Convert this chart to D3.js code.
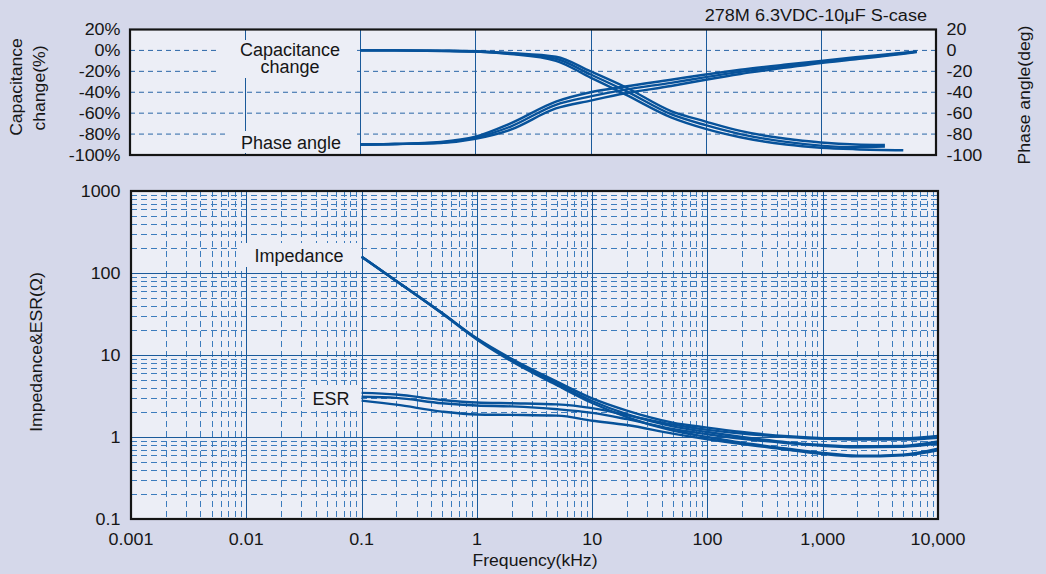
<!DOCTYPE html>
<html><head><meta charset="utf-8">
<script src="https://cdn.jsdelivr.net/npm/d3@7"></script>
<style>
body{margin:0;background:#d5d8ea;}
svg{display:block;font-family:"Liberation Sans",Arial,Helvetica,sans-serif;}
</style>
</head><body>
<svg id="c" width="1046" height="574"></svg>
<script>
// ---------- data ----------
const titleText = "278M 6.3VDC-10\u03bcF S-case";
const freqTicks = [0.001, 0.01, 0.1, 1, 10, 100, 1000, 10000];
const freqTickLabels = ["0.001", "0.01", "0.1", "1", "10", "100", "1,000", "10,000"];
const capTicks = [20, 0, -20, -40, -60, -80, -100];
const capTickLabels = ["20%", "0%", "-20%", "-40%", "-60%", "-80%", "-100%"];
const phaseTicks = [20, 0, -20, -40, -60, -80, -100];
const phaseTickLabels = ["20", "0", "-20", "-40", "-60", "-80", "-100"];
const zTicks = [0.1, 1, 10, 100, 1000];
const zTickLabels = ["0.1", "1", "10", "100", "1000"];

// capacitance change (%) vs frequency (kHz)
const capFreqA = [0.1, 0.2, 0.5, 1, 2, 5, 10, 20, 50, 100, 200, 500, 1000, 2000, 3600];
const capFreqB = [0.1, 0.2, 0.5, 1, 2, 5, 10, 20, 50, 100, 200, 500, 1000, 2000, 5200];
const cap1 = [0, 0, -0.3, -0.8, -2.5, -6, -20, -35, -58, -68, -77, -84.5, -88, -90, -90.5];
const cap2 = [0, 0, -0.4, -1, -3, -8, -23, -38.5, -61, -71.5, -80, -87.5, -91, -92.5, -92];
const cap3 = [0, 0, -0.5, -1.2, -3.5, -10, -26, -42, -64, -75, -83, -90, -93, -94.5, -95.5];

// phase angle (deg) vs frequency (kHz)
const phaseFreq = [0.1, 0.2, 0.5, 1, 2, 5, 10, 20, 50, 100, 200, 500, 1000, 2000, 5000, 6800];
const phase1 = [-90, -89.5, -87.5, -82.5, -70, -49, -40, -34.5, -28, -23, -18.5, -13.5, -10, -6.5, -2.5, -1];
const phase2 = [-90, -89.5, -88, -83.5, -73, -52, -44, -37.5, -31, -25.5, -20.5, -15, -11, -7.5, -3, -1.2];
const phase3 = [-90, -89.5, -88.5, -84.5, -76, -55.5, -48, -41, -34, -28, -22.5, -16.5, -12, -8.5, -3.5, -1.5];

// impedance & ESR (ohm) vs frequency (kHz)
const zFreq = [0.1, 0.2, 0.5, 1, 2, 5, 10, 20, 50, 100, 200, 500, 1000, 2000, 5000, 10000];
const imp1 = [158, 80, 32.5, 16, 9.0, 4.7, 2.96, 2.1, 1.5, 1.3, 1.15, 1.02, 0.97, 0.95, 0.96, 1.03];
const imp2 = [158, 80, 32.3, 15.8, 8.7, 4.45, 2.75, 1.9, 1.35, 1.15, 1.0, 0.86, 0.8, 0.77, 0.78, 0.88];
const imp3 = [158, 80, 32, 15.5, 8.4, 4.25, 2.6, 1.75, 1.2, 1.0, 0.85, 0.72, 0.64, 0.59, 0.61, 0.72];
const esr1 = [3.45, 3.3, 2.83, 2.63, 2.58, 2.5, 2.25, 1.85, 1.42, 1.22, 1.1, 1.0, 0.95, 0.93, 0.93, 0.98];
const esr2 = [3.1, 3.0, 2.58, 2.42, 2.36, 2.18, 1.97, 1.65, 1.25, 1.08, 0.95, 0.84, 0.78, 0.75, 0.76, 0.83];
const esr3 = [2.78, 2.48, 2.04, 1.88, 1.86, 1.82, 1.58, 1.4, 1.1, 0.94, 0.82, 0.7, 0.62, 0.58, 0.6, 0.69];

// ---------- style ----------
const C = {
  plotBg: "#eceef6", frame: "#141414", curve: "#07529a",
  major: "#1b5a9a", minor: "#3c7cbd", dash: "#2a66a6", text: "#161616"
};

const svg = d3.select("#c");

function txt(g, x, y, s, o = {}) {
  const size = o.size || 16, sx = o.sx || 1, rot = o.rot || 0;
  return g.append("text")
    .attr("transform", `translate(${x},${y}) rotate(${rot}) scale(${sx},1)`)
    .attr("text-anchor", o.anchor || "start")
    .style("font-size", size + "px")
    .attr("fill", C.text)
    .text(s);
}

// ---------- top panel ----------
const T = {x0: 130, x1: 936, y0: 29.5, y1: 155};
const xT = d3.scaleLog().domain([0.001, 10000]).range([T.x0, T.x1]);
const yCap = d3.scaleLinear().domain([-100, 20]).range([T.y1, T.y0]);
const yPh = d3.scaleLinear().domain([-100, 20]).range([T.y1, T.y0]);

const gT = svg.append("g");
gT.append("rect").attr("x", T.x0).attr("y", T.y0).attr("width", T.x1 - T.x0).attr("height", T.y1 - T.y0).attr("fill", C.plotBg);
// horizontal dashed
gT.selectAll("line.h").data(capTicks.filter(d => d > -100 && d < 20)).join("line")
  .attr("x1", T.x0).attr("x2", T.x1).attr("y1", d => yCap(d)).attr("y2", d => yCap(d))
  .attr("stroke", C.dash).attr("stroke-width", 1).attr("stroke-dasharray", "5,4");
// vertical decades
gT.selectAll("line.v").data(freqTicks.slice(1, -1)).join("line")
  .attr("x1", d => Math.round(xT(d)) + 0.5).attr("x2", d => Math.round(xT(d)) + 0.5).attr("y1", T.y0).attr("y2", T.y1)
  .attr("stroke", C.major).attr("stroke-width", 1);
// label boxes
gT.append("rect").attr("x", 220).attr("y", 40).attr("width", 137).attr("height", 38).attr("fill", C.plotBg);
gT.append("rect").attr("x", 227).attr("y", 131).attr("width", 130).attr("height", 22).attr("fill", C.plotBg);

const lineT = (fr, ys, sc) => d3.line().x((d, i) => xT(fr[i])).y(d => sc(d)).curve(d3.curveMonotoneX)(ys);
[[capFreqA, cap1], [capFreqA, cap2], [capFreqB, cap3]].forEach(([fr, ys]) =>
  gT.append("path").attr("d", lineT(fr, ys, yCap)).attr("fill", "none").attr("stroke", C.curve).attr("stroke-width", 2.4));
[phase1, phase2, phase3].forEach(ys =>
  gT.append("path").attr("d", lineT(phaseFreq, ys, yPh)).attr("fill", "none").attr("stroke", C.curve).attr("stroke-width", 2.4));

gT.append("rect").attr("x", T.x0).attr("y", T.y0).attr("width", T.x1 - T.x0).attr("height", T.y1 - T.y0)
  .attr("fill", "none").attr("stroke", C.frame).attr("stroke-width", 2.2);

txt(gT, 290, 56, "Capacitance", {size: 18, anchor: "middle"});
txt(gT, 290, 73, "change", {size: 18, anchor: "middle"});
txt(gT, 291, 149, "Phase angle", {size: 18, anchor: "middle"});

capTicks.forEach((d, i) => txt(gT, 120.5, yCap(d) + 5.5, capTickLabels[i], {anchor: "end", sx: 1.12}));
phaseTicks.forEach((d, i) => txt(gT, 946.5, yPh(d) + 5.5, phaseTickLabels[i], {anchor: "start", sx: 1.12}));
txt(gT, 927, 21, titleText, {anchor: "end", sx: 1.13});
txt(gT, 22, 87, "Capacitance", {anchor: "middle", rot: -90, sx: 1.1});
txt(gT, 45, 88, "change(%)", {anchor: "middle", rot: -90, sx: 1.1});
txt(gT, 1030, 95, "Phase angle(deg)", {anchor: "middle", rot: -90, sx: 1.1});

// ---------- bottom panel ----------
const B = {x0: 131, x1: 938, y0: 191, y1: 519};
const xB = d3.scaleLog().domain([0.001, 10000]).range([B.x0, B.x1]);
const yZ = d3.scaleLog().domain([0.1, 1000]).range([B.y1, B.y0]);
const gB = svg.append("g");
gB.append("rect").attr("x", B.x0).attr("y", B.y0).attr("width", B.x1 - B.x0).attr("height", B.y1 - B.y0).attr("fill", C.plotBg);

const minorX = [], minorY = [];
for (let e = -3; e < 4; e++) for (let k = 2; k <= 9; k++) minorX.push(k * Math.pow(10, e));
for (let e = -1; e < 3; e++) for (let k = 2; k <= 9; k++) minorY.push(k * Math.pow(10, e));

gB.selectAll("line.mx").data(minorX).join("line")
  .attr("x1", d => Math.round(xB(d)) + 0.5).attr("x2", d => Math.round(xB(d)) + 0.5).attr("y1", B.y0).attr("y2", B.y1)
  .attr("stroke", C.minor).attr("stroke-width", 1).attr("stroke-dasharray", "6,4");
gB.selectAll("line.my").data(minorY).join("line")
  .attr("x1", B.x0).attr("x2", B.x1).attr("y1", d => Math.round(yZ(d)) + 0.5).attr("y2", d => Math.round(yZ(d)) + 0.5)
  .attr("stroke", C.minor).attr("stroke-width", 1).attr("stroke-dasharray", "6,4");
gB.selectAll("line.Mx").data(freqTicks.slice(1, -1)).join("line")
  .attr("x1", d => Math.round(xB(d)) + 0.5).attr("x2", d => Math.round(xB(d)) + 0.5).attr("y1", B.y0).attr("y2", B.y1)
  .attr("stroke", C.major).attr("stroke-width", 1);
gB.selectAll("line.My").data(zTicks.slice(1, -1)).join("line")
  .attr("x1", B.x0).attr("x2", B.x1).attr("y1", d => Math.round(yZ(d)) + 0.5).attr("y2", d => Math.round(yZ(d)) + 0.5)
  .attr("stroke", C.major).attr("stroke-width", 1);

gB.append("rect").attr("x", 240).attr("y", 243).attr("width", 118).attr("height", 24).attr("fill", C.plotBg);
gB.append("rect").attr("x", 305).attr("y", 385).attr("width", 53).attr("height", 25).attr("fill", C.plotBg);

const lineB = ys => d3.line().x((d, i) => xB(zFreq[i])).y(d => yZ(d)).curve(d3.curveMonotoneX)(ys);
[imp1, imp2, imp3, esr1, esr2, esr3].forEach(ys =>
  gB.append("path").attr("d", lineB(ys)).attr("fill", "none").attr("stroke", C.curve).attr("stroke-width", 2.4));

gB.append("rect").attr("x", B.x0).attr("y", B.y0).attr("width", B.x1 - B.x0).attr("height", B.y1 - B.y0)
  .attr("fill", "none").attr("stroke", C.frame).attr("stroke-width", 2.2);

txt(gB, 299, 262, "Impedance", {size: 18, anchor: "middle"});
txt(gB, 331, 405, "ESR", {size: 18, anchor: "middle"});

zTicks.forEach((d, i) => txt(gB, 120.5, yZ(d) + 5.5, zTickLabels[i], {anchor: "end", sx: 1.12}));
freqTicks.forEach((d, i) => txt(gB, xB(d), 545, freqTickLabels[i], {anchor: "middle", sx: 1.12}));
txt(gB, 535, 566, "Frequency(kHz)", {anchor: "middle", sx: 1.1});
txt(gB, 42, 352, "Impedance&ESR(\u03a9)", {anchor: "middle", rot: -90, sx: 1.1});
</script>
</body></html>
